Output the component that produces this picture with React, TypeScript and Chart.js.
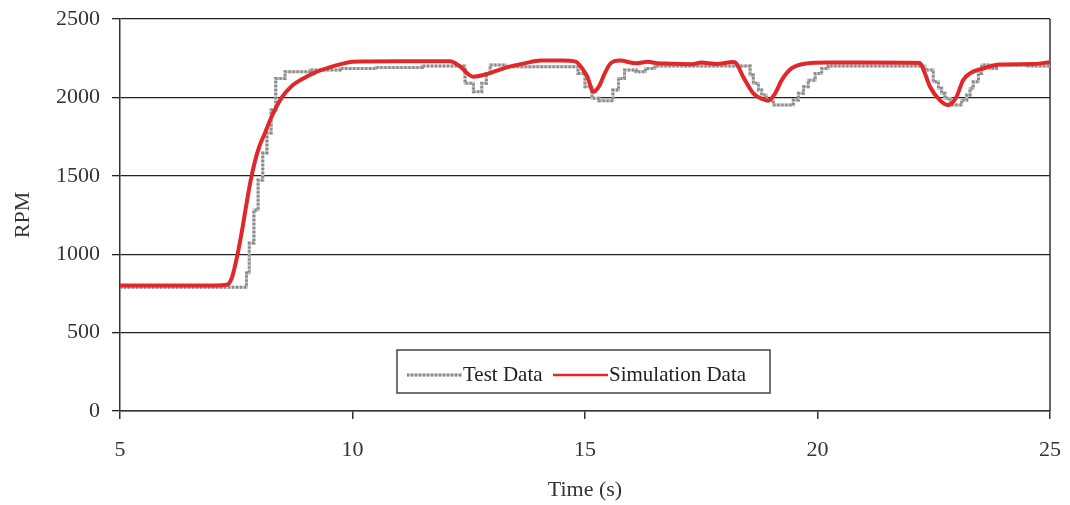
import React, { useEffect, useRef } from "react";
import { Chart, registerables } from "chart.js";
Chart.register(...registerables);

// ---- data ----
const simTime = [5, 7.0, 7.3, 7.4, 7.5, 7.6, 7.7, 7.8, 7.9, 8.0, 8.12, 8.25, 8.48, 8.7, 8.94, 9.2, 9.44, 9.75, 10.0, 11.0, 12.1, 12.3, 12.6, 12.9, 13.3, 13.7, 14.05, 14.5, 14.8, 14.95, 15.05, 15.18, 15.3, 15.42, 15.55, 15.75, 16.1, 16.35, 16.55, 16.85, 17.3, 17.5, 17.83, 18.19, 18.26, 18.4, 18.62, 18.83, 18.94, 19.09, 19.23, 19.44, 19.77, 20.2, 21.0, 22.2, 22.3, 22.42, 22.63, 22.81, 22.99, 23.13, 23.28, 23.57, 23.92, 24.65, 25];
const simRpm = [800, 800, 805, 845, 960, 1110, 1285, 1455, 1590, 1690, 1775, 1870, 2000, 2075, 2121, 2160, 2185, 2212, 2228, 2230, 2230, 2200, 2132, 2150, 2190, 2217, 2235, 2235, 2228, 2180, 2132, 2036, 2070, 2150, 2217, 2235, 2217, 2228, 2218, 2215, 2212, 2222, 2213, 2226, 2215, 2132, 2026, 1988, 1979, 2026, 2110, 2185, 2217, 2222, 2222, 2220, 2160, 2068, 1983, 1951, 2004, 2110, 2153, 2185, 2210, 2213, 2225];

const testTime = [5, 7.72, 7.78, 7.88, 7.97, 8.07, 8.16, 8.25, 8.35, 8.55, 9.09, 9.73, 10.5, 11.5, 12.42, 12.6, 12.78, 12.88, 12.96, 13.3, 14.85, 15.0, 15.15, 15.3, 15.6, 15.72, 15.85, 16.1, 16.3, 16.5, 18.55, 18.62, 18.73, 18.8, 18.9, 19.05, 19.48, 19.59, 19.7, 19.8, 19.95, 20.09, 20.23, 22.31, 22.49, 22.6, 22.67, 22.74, 22.85, 23.1, 23.21, 23.28, 23.35, 23.46, 23.53, 23.71, 23.85, 24.5, 25];
const testRpm = [790, 880, 1071, 1282, 1473, 1645, 1773, 1920, 2120, 2164, 2175, 2185, 2190, 2200, 2090, 2036, 2090, 2153, 2207, 2196, 2153, 2068, 1994, 1979, 2047, 2121, 2175, 2164, 2185, 2200, 2143, 2090, 2047, 2015, 1983, 1951, 1983, 2026, 2068, 2110, 2153, 2185, 2200, 2175, 2100, 2058, 2026, 1994, 1951, 1983, 2015, 2058, 2100, 2153, 2207, 2185, 2207, 2200, 2200];

const xTickValues = [5, 10, 15, 20, 25];
const yTickValues = [0, 500, 1000, 1500, 2000, 2500];
const seriesNames = ["Test Data", "Simulation Data"];
const axisTitles = { x: "Time (s)", y: "RPM" };

const RED = "#e0282a";
const GRAY_LIGHT = "#c4c4c4";
const GRAY_DARK = "#8a8a8a";
const FONT = '"Liberation Serif", "Times New Roman", serif';

const rightBorder = {
  id: "rightBorder",
  beforeDatasetsDraw(chart: any) {
    const { ctx, chartArea } = chart;
    ctx.save();
    ctx.strokeStyle = "#333";
    ctx.lineWidth = 1.5;
    ctx.beginPath();
    ctx.moveTo(chartArea.right, chartArea.top);
    ctx.lineTo(chartArea.right, chartArea.bottom);
    ctx.stroke();
    ctx.restore();
  },
};

const legendBox = {
  id: "legendBox",
  afterDraw(chart: any) {
    const { ctx, chartArea } = chart;
    const x0 = chartArea.left + 277;
    const y0 = chartArea.top + 331;
    const w = 373;
    const h = 43;
    ctx.save();
    ctx.fillStyle = "#fff";
    ctx.fillRect(x0, y0, w, h);
    ctx.strokeStyle = "#444";
    ctx.lineWidth = 1.5;
    ctx.strokeRect(x0, y0, w, h);
    const cy = y0 + 25;
    let x = x0 + 10;
    ctx.lineWidth = 3;
    ctx.strokeStyle = GRAY_LIGHT;
    ctx.beginPath();
    ctx.moveTo(x, cy);
    ctx.lineTo(x + 55, cy);
    ctx.stroke();
    ctx.setLineDash([2, 2]);
    ctx.strokeStyle = GRAY_DARK;
    ctx.beginPath();
    ctx.moveTo(x, cy);
    ctx.lineTo(x + 55, cy);
    ctx.stroke();
    ctx.setLineDash([]);
    ctx.font = "21px " + FONT;
    ctx.textBaseline = "middle";
    ctx.textAlign = "left";
    ctx.fillStyle = "#222";
    ctx.fillText(seriesNames[0], x + 56, cy);
    x = x0 + 156;
    ctx.lineWidth = 2.5;
    ctx.strokeStyle = RED;
    ctx.beginPath();
    ctx.moveTo(x, cy);
    ctx.lineTo(x + 55, cy);
    ctx.stroke();
    ctx.fillText(seriesNames[1], x + 56, cy);
    ctx.restore();
  },
};

export default function App() {
  const ref = useRef<HTMLCanvasElement | null>(null);
  useEffect(() => {
    if (!ref.current) return;
    const simPoints = simTime.map((t, i) => ({ x: t, y: simRpm[i] }));
    const testPoints = testTime.map((t, i) => ({ x: t, y: testRpm[i] }));
    const chart = new Chart(ref.current, {
      type: "line",
      data: {
        datasets: [
          {
            label: seriesNames[1],
            data: simPoints,
            borderColor: RED,
            borderWidth: 4,
            pointRadius: 0,
            cubicInterpolationMode: "monotone",
            fill: false,
          },
          {
            label: seriesNames[0],
            data: testPoints,
            borderColor: GRAY_DARK,
            borderDash: [2, 2],
            borderWidth: 3,
            pointRadius: 0,
            stepped: true,
            fill: false,
          },
          {
            label: seriesNames[0] + " base",
            data: testPoints,
            borderColor: GRAY_LIGHT,
            borderWidth: 3,
            pointRadius: 0,
            stepped: true,
            fill: false,
          },
        ],
      } as any,
      options: {
        animation: false,
        responsive: false,
        maintainAspectRatio: false,
        devicePixelRatio: 1,
        layout: { padding: { top: 19, right: 20, left: 0, bottom: 0 } },
        plugins: {
          legend: { display: false },
          tooltip: { enabled: false },
        },
        scales: {
          x: {
            type: "linear",
            min: 5,
            max: 25,
            afterFit: (s: any) => {
              s.height = 94;
              s.paddingLeft = 0;
              s.paddingRight = 0;
            },
            afterBuildTicks: (s: any) => {
              s.ticks = xTickValues.map((v) => ({ value: v }));
            },
            ticks: {
              font: { family: FONT, size: 22 },
              color: "#333",
              padding: 18,
              maxRotation: 0,
              callback: (v: any) => String(v),
            },
            grid: {
              drawOnChartArea: false,
              drawTicks: true,
              tickLength: 8,
              color: "#333",
              lineWidth: 1.5,
            },
            border: { display: true, color: "#333", width: 1.5 },
            title: {
              display: true,
              text: axisTitles.x,
              font: { family: FONT, size: 22 },
              color: "#333",
              padding: { top: 0, bottom: 2 },
            },
          },
          y: {
            type: "linear",
            min: 0,
            max: 2500,
            afterFit: (s: any) => {
              s.width = 120;
              s.paddingTop = 0;
              s.paddingBottom = 0;
            },
            afterBuildTicks: (s: any) => {
              s.ticks = yTickValues.map((v) => ({ value: v }));
            },
            ticks: {
              font: { family: FONT, size: 22 },
              color: "#333",
              padding: 12,
              callback: (v: any) => String(v),
            },
            grid: {
              drawOnChartArea: true,
              drawTicks: true,
              tickLength: 8,
              color: "#222",
              lineWidth: 1.3,
            },
            border: { display: true, color: "#333", width: 1.5 },
            title: {
              display: true,
              text: axisTitles.y,
              font: { family: FONT, size: 22 },
              color: "#333",
              padding: { top: 10, bottom: 0 },
            },
          },
        },
      } as any,
      plugins: [rightBorder, legendBox],
    });
    return () => chart.destroy();
  }, []);
  return (
    <div style={{ position: "fixed", left: 0, top: 0, width: 1070, height: 505, background: "#fff" }}>
      <canvas ref={ref} width={1070} height={505} style={{ width: 1070, height: 505, display: "block" }} />
    </div>
  );
}
